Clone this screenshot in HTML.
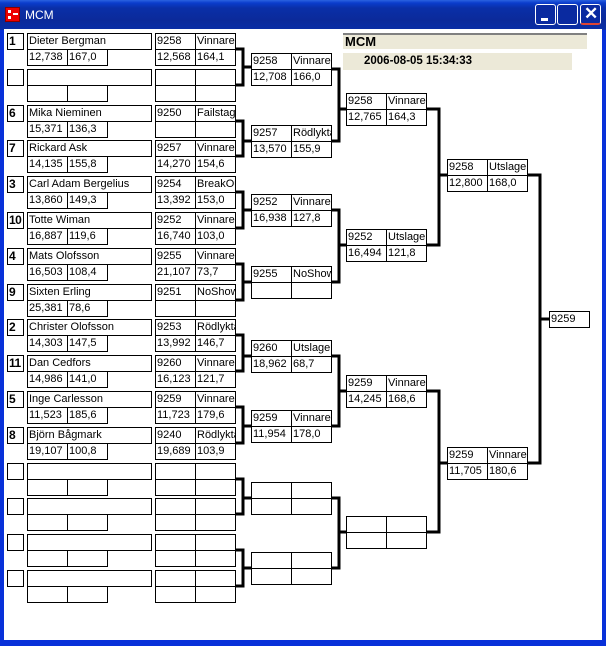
<!DOCTYPE html>
<html><head><meta charset="utf-8"><style>
*{margin:0;padding:0;box-sizing:border-box}
body{width:606px;height:646px;overflow:hidden;background:#0831d9;font-family:"Liberation Sans",sans-serif;position:relative}
#tb{position:absolute;left:0;top:0;width:606px;height:30px;background:linear-gradient(#2a63e0 0,#0a3ccc 3px,#0a2fa8 8px,#0b2a9a 20px,#0a2ea6 30px)}
#cl{position:absolute;left:4px;top:29px;width:598px;height:611px;background:#fff}
.c{position:absolute;border:1px solid #000;height:17px;font-size:11px;line-height:15px;padding-left:1px;white-space:nowrap;overflow:hidden;background:#fff;color:#000}
.s{width:17px;font-weight:bold;font-size:12px;padding-left:1px;letter-spacing:-0.5px}
.n{width:125px}
.v{width:41px}
.btn{position:absolute;top:4px;width:21px;height:21px;border:1px solid #fff;border-radius:3px;background:#0a2aa0}
</style></head><body>
<div id="tb">
<div style="position:absolute;left:5px;top:7px;width:15px;height:15px;background:#e00;border:1px solid #800"></div>
<div style="position:absolute;left:8px;top:10px;width:3px;height:3px;background:#fff"></div><div style="position:absolute;left:8px;top:16px;width:3px;height:3px;background:#fff"></div><div style="position:absolute;left:13px;top:13px;width:5px;height:2px;background:#fff"></div>
<div style="position:absolute;left:25px;top:8px;color:#fff;font-size:12px">MCM</div>
<div class="btn" style="left:535px"><div style="position:absolute;left:5px;top:13px;width:7px;height:3px;background:#fff"></div></div>
<div class="btn" style="left:557px"></div>
<div class="btn" style="left:580px;border-bottom:2px solid #d43"><div style="position:absolute;left:3px;top:0;color:#fff;font-size:17px;line-height:18px;font-weight:bold">✕</div></div>
</div>
<div id="cl"></div>

<div style="position:absolute;left:343px;top:33px;width:244px;height:16px;background:#ece9d8;border-top:2px solid #808080;font-weight:bold;font-size:13px;line-height:14px;padding-left:2px">MCM</div>
<div style="position:absolute;left:343px;top:53px;width:229px;height:17px;background:#ece9d8;font-weight:bold;font-size:11.5px;line-height:16px;padding-left:21px">2006-08-05 15:34:33</div>

<div class="c s" style="left:7px;top:33px">1</div><div class="c n" style="left:27px;top:33px">Dieter Bergman</div><div class="c v" style="left:27px;top:49px">12,738</div><div class="c v" style="left:67px;top:49px">167,0</div>
<div class="c s" style="left:7px;top:69px"></div><div class="c n" style="left:27px;top:69px"></div><div class="c v" style="left:27px;top:85px"></div><div class="c v" style="left:67px;top:85px"></div>
<div class="c s" style="left:7px;top:105px">6</div><div class="c n" style="left:27px;top:105px">Mika Nieminen</div><div class="c v" style="left:27px;top:121px">15,371</div><div class="c v" style="left:67px;top:121px">136,3</div>
<div class="c s" style="left:7px;top:140px">7</div><div class="c n" style="left:27px;top:140px">Rickard Ask</div><div class="c v" style="left:27px;top:156px">14,135</div><div class="c v" style="left:67px;top:156px">155,8</div>
<div class="c s" style="left:7px;top:176px">3</div><div class="c n" style="left:27px;top:176px">Carl Adam Bergelius</div><div class="c v" style="left:27px;top:192px">13,860</div><div class="c v" style="left:67px;top:192px">149,3</div>
<div class="c s" style="left:7px;top:212px">10</div><div class="c n" style="left:27px;top:212px">Totte Wiman</div><div class="c v" style="left:27px;top:228px">16,887</div><div class="c v" style="left:67px;top:228px">119,6</div>
<div class="c s" style="left:7px;top:248px">4</div><div class="c n" style="left:27px;top:248px">Mats Olofsson</div><div class="c v" style="left:27px;top:264px">16,503</div><div class="c v" style="left:67px;top:264px">108,4</div>
<div class="c s" style="left:7px;top:284px">9</div><div class="c n" style="left:27px;top:284px">Sixten Erling</div><div class="c v" style="left:27px;top:300px">25,381</div><div class="c v" style="left:67px;top:300px">78,6</div>
<div class="c s" style="left:7px;top:319px">2</div><div class="c n" style="left:27px;top:319px">Christer Olofsson</div><div class="c v" style="left:27px;top:335px">14,303</div><div class="c v" style="left:67px;top:335px">147,5</div>
<div class="c s" style="left:7px;top:355px">11</div><div class="c n" style="left:27px;top:355px">Dan Cedfors</div><div class="c v" style="left:27px;top:371px">14,986</div><div class="c v" style="left:67px;top:371px">141,0</div>
<div class="c s" style="left:7px;top:391px">5</div><div class="c n" style="left:27px;top:391px">Inge Carlesson</div><div class="c v" style="left:27px;top:407px">11,523</div><div class="c v" style="left:67px;top:407px">185,6</div>
<div class="c s" style="left:7px;top:427px">8</div><div class="c n" style="left:27px;top:427px">Björn Bågmark</div><div class="c v" style="left:27px;top:443px">19,107</div><div class="c v" style="left:67px;top:443px">100,8</div>
<div class="c s" style="left:7px;top:463px"></div><div class="c n" style="left:27px;top:463px"></div><div class="c v" style="left:27px;top:479px"></div><div class="c v" style="left:67px;top:479px"></div>
<div class="c s" style="left:7px;top:498px"></div><div class="c n" style="left:27px;top:498px"></div><div class="c v" style="left:27px;top:514px"></div><div class="c v" style="left:67px;top:514px"></div>
<div class="c s" style="left:7px;top:534px"></div><div class="c n" style="left:27px;top:534px"></div><div class="c v" style="left:27px;top:550px"></div><div class="c v" style="left:67px;top:550px"></div>
<div class="c s" style="left:7px;top:570px"></div><div class="c n" style="left:27px;top:570px"></div><div class="c v" style="left:27px;top:586px"></div><div class="c v" style="left:67px;top:586px"></div>

<div class="c v" style="left:155px;top:33px">9258</div><div class="c v" style="left:195px;top:33px">Vinnare</div><div class="c v" style="left:155px;top:49px">12,568</div><div class="c v" style="left:195px;top:49px">164,1</div>
<div class="c v" style="left:155px;top:69px"></div><div class="c v" style="left:195px;top:69px"></div><div class="c v" style="left:155px;top:85px"></div><div class="c v" style="left:195px;top:85px"></div>
<div class="c v" style="left:155px;top:105px">9250</div><div class="c v" style="left:195px;top:105px">Failstage</div><div class="c v" style="left:155px;top:121px"></div><div class="c v" style="left:195px;top:121px"></div>
<div class="c v" style="left:155px;top:140px">9257</div><div class="c v" style="left:195px;top:140px">Vinnare</div><div class="c v" style="left:155px;top:156px">14,270</div><div class="c v" style="left:195px;top:156px">154,6</div>
<div class="c v" style="left:155px;top:176px">9254</div><div class="c v" style="left:195px;top:176px">BreakOut</div><div class="c v" style="left:155px;top:192px">13,392</div><div class="c v" style="left:195px;top:192px">153,0</div>
<div class="c v" style="left:155px;top:212px">9252</div><div class="c v" style="left:195px;top:212px">Vinnare</div><div class="c v" style="left:155px;top:228px">16,740</div><div class="c v" style="left:195px;top:228px">103,0</div>
<div class="c v" style="left:155px;top:248px">9255</div><div class="c v" style="left:195px;top:248px">Vinnare</div><div class="c v" style="left:155px;top:264px">21,107</div><div class="c v" style="left:195px;top:264px">73,7</div>
<div class="c v" style="left:155px;top:284px">9251</div><div class="c v" style="left:195px;top:284px">NoShow</div><div class="c v" style="left:155px;top:300px"></div><div class="c v" style="left:195px;top:300px"></div>
<div class="c v" style="left:155px;top:319px">9253</div><div class="c v" style="left:195px;top:319px">Rödlykta</div><div class="c v" style="left:155px;top:335px">13,992</div><div class="c v" style="left:195px;top:335px">146,7</div>
<div class="c v" style="left:155px;top:355px">9260</div><div class="c v" style="left:195px;top:355px">Vinnare</div><div class="c v" style="left:155px;top:371px">16,123</div><div class="c v" style="left:195px;top:371px">121,7</div>
<div class="c v" style="left:155px;top:391px">9259</div><div class="c v" style="left:195px;top:391px">Vinnare</div><div class="c v" style="left:155px;top:407px">11,723</div><div class="c v" style="left:195px;top:407px">179,6</div>
<div class="c v" style="left:155px;top:427px">9240</div><div class="c v" style="left:195px;top:427px">Rödlykta</div><div class="c v" style="left:155px;top:443px">19,689</div><div class="c v" style="left:195px;top:443px">103,9</div>
<div class="c v" style="left:155px;top:463px"></div><div class="c v" style="left:195px;top:463px"></div><div class="c v" style="left:155px;top:479px"></div><div class="c v" style="left:195px;top:479px"></div>
<div class="c v" style="left:155px;top:498px"></div><div class="c v" style="left:195px;top:498px"></div><div class="c v" style="left:155px;top:514px"></div><div class="c v" style="left:195px;top:514px"></div>
<div class="c v" style="left:155px;top:534px"></div><div class="c v" style="left:195px;top:534px"></div><div class="c v" style="left:155px;top:550px"></div><div class="c v" style="left:195px;top:550px"></div>
<div class="c v" style="left:155px;top:570px"></div><div class="c v" style="left:195px;top:570px"></div><div class="c v" style="left:155px;top:586px"></div><div class="c v" style="left:195px;top:586px"></div>

<div class="c v" style="left:251px;top:53px">9258</div><div class="c v" style="left:291px;top:53px">Vinnare</div><div class="c v" style="left:251px;top:69px">12,708</div><div class="c v" style="left:291px;top:69px">166,0</div>
<div class="c v" style="left:251px;top:125px">9257</div><div class="c v" style="left:291px;top:125px">Rödlykta</div><div class="c v" style="left:251px;top:141px">13,570</div><div class="c v" style="left:291px;top:141px">155,9</div>
<div class="c v" style="left:251px;top:194px">9252</div><div class="c v" style="left:291px;top:194px">Vinnare</div><div class="c v" style="left:251px;top:210px">16,938</div><div class="c v" style="left:291px;top:210px">127,8</div>
<div class="c v" style="left:251px;top:266px">9255</div><div class="c v" style="left:291px;top:266px">NoShow</div><div class="c v" style="left:251px;top:282px"></div><div class="c v" style="left:291px;top:282px"></div>
<div class="c v" style="left:251px;top:340px">9260</div><div class="c v" style="left:291px;top:340px">Utslager</div><div class="c v" style="left:251px;top:356px">18,962</div><div class="c v" style="left:291px;top:356px">68,7</div>
<div class="c v" style="left:251px;top:410px">9259</div><div class="c v" style="left:291px;top:410px">Vinnare</div><div class="c v" style="left:251px;top:426px">11,954</div><div class="c v" style="left:291px;top:426px">178,0</div>
<div class="c v" style="left:251px;top:482px"></div><div class="c v" style="left:291px;top:482px"></div><div class="c v" style="left:251px;top:498px"></div><div class="c v" style="left:291px;top:498px"></div>
<div class="c v" style="left:251px;top:552px"></div><div class="c v" style="left:291px;top:552px"></div><div class="c v" style="left:251px;top:568px"></div><div class="c v" style="left:291px;top:568px"></div>

<div class="c v" style="left:346px;top:93px">9258</div><div class="c v" style="left:386px;top:93px">Vinnare</div><div class="c v" style="left:346px;top:109px">12,765</div><div class="c v" style="left:386px;top:109px">164,3</div>
<div class="c v" style="left:346px;top:229px">9252</div><div class="c v" style="left:386px;top:229px">Utslager</div><div class="c v" style="left:346px;top:245px">16,494</div><div class="c v" style="left:386px;top:245px">121,8</div>
<div class="c v" style="left:346px;top:375px">9259</div><div class="c v" style="left:386px;top:375px">Vinnare</div><div class="c v" style="left:346px;top:391px">14,245</div><div class="c v" style="left:386px;top:391px">168,6</div>
<div class="c v" style="left:346px;top:516px"></div><div class="c v" style="left:386px;top:516px"></div><div class="c v" style="left:346px;top:532px"></div><div class="c v" style="left:386px;top:532px"></div>

<div class="c v" style="left:447px;top:159px">9258</div><div class="c v" style="left:487px;top:159px">Utslager</div><div class="c v" style="left:447px;top:175px">12,800</div><div class="c v" style="left:487px;top:175px">168,0</div>
<div class="c v" style="left:447px;top:447px">9259</div><div class="c v" style="left:487px;top:447px">Vinnare</div><div class="c v" style="left:447px;top:463px">11,705</div><div class="c v" style="left:487px;top:463px">180,6</div>

<div class="c v" style="left:549px;top:311px">9259</div>

<svg width="606" height="646" style="position:absolute;left:0;top:0" fill="none" stroke="#000" stroke-width="3">
<path d="M235 49H243V85H235M243 67H251"/>
<path d="M235 121H243V156H235M243 141H251"/>
<path d="M235 192H243V228H235M243 210H251"/>
<path d="M235 264H243V300H235M243 282H251"/>
<path d="M235 335H243V371H235M243 356H251"/>
<path d="M235 407H243V443H235M243 426H251"/>
<path d="M235 479H243V514H235M243 498H251"/>
<path d="M235 550H243V586H235M243 568H251"/>
<path d="M331 69H339V141H331M339 109H346"/>
<path d="M331 210H339V282H331M339 245H346"/>
<path d="M331 356H339V426H331M339 391H346"/>
<path d="M331 498H339V568H331M339 532H346"/>
<path d="M427 109H439V245H427M439 175H447"/>
<path d="M427 391H439V532H427M439 463H447"/>
<path d="M528 175H540V463H528M540 319H549"/>
</svg>
</body></html>
